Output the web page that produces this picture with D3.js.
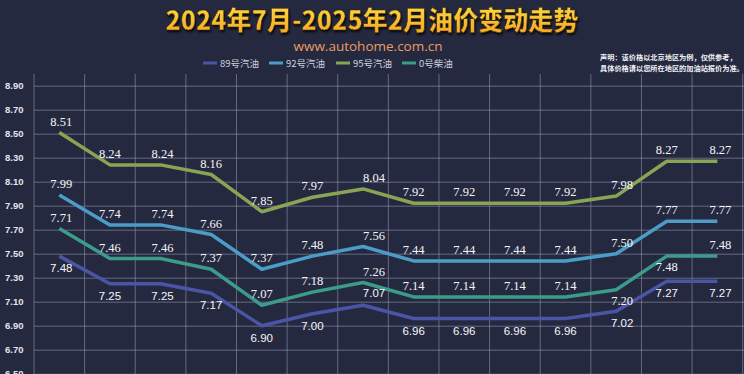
<!DOCTYPE html>
<html>
<head>
<meta charset="utf-8">
<script src="https://cdn.jsdelivr.net/npm/d3@7"></script>
<style>
  html, body { margin: 0; padding: 0; background: #252940; }
  svg { display: block; }
</style>
</head>
<body>
<div id="chart"></div>
<script>
// adjustment rounds, Jul 2024 - Feb 2025 (axis labels sit below the visible area)
const categories = ["7/3", "7/17", "7/31", "8/14", "8/28", "9/11", "9/25", "10/10", "10/24", "11/7", "11/21", "12/5", "1/17", "2/6"];
const seriesNames = ["89号汽油", "92号汽油", "95号汽油", "0号柴油"];
const gas89 = [7.48, 7.25, 7.25, 7.17, 6.90, 7.00, 7.07, 6.96, 6.96, 6.96, 6.96, 7.02, 7.27, 7.27];
const gas92 = [7.99, 7.74, 7.74, 7.66, 7.37, 7.48, 7.56, 7.44, 7.44, 7.44, 7.44, 7.50, 7.77, 7.77];
const gas95 = [8.51, 8.24, 8.24, 8.16, 7.85, 7.97, 8.04, 7.92, 7.92, 7.92, 7.92, 7.98, 8.27, 8.27];
const diesel0 = [7.71, 7.46, 7.46, 7.37, 7.07, 7.18, 7.26, 7.14, 7.14, 7.14, 7.14, 7.20, 7.48, 7.48];
const yTicks = [6.50, 6.70, 6.90, 7.10, 7.30, 7.50, 7.70, 7.90, 8.10, 8.30, 8.50, 8.70, 8.90];
const titleText = "2024年7月-2025年2月油价变动走势";
const subText = "www.autohome.com.cn";
const noteLines = ["声明：该价格以北京地区为例，仅供参考，", "具体价格请以您所在地区的加油站报价为准。"];

const width = 744, height = 374;
const colors = { "89号汽油": "#4a55a6", "92号汽油": "#4c9cc8", "95号汽油": "#88a552", "0号柴油": "#3b9c8a" };
// label side per series (+ = below), with a few exceptions
const labelStyle = {
  "89号汽油": { dy: 12, flip: [6], font: "'Liberation Sans', Arial, sans-serif" },
  "92号汽油": { dy: -11, flip: [], font: "'Liberation Serif', 'Times New Roman', serif" },
  "95号汽油": { dy: -11, flip: [], font: "'Liberation Serif', 'Times New Roman', serif" },
  "0号柴油": { dy: -11, flip: [11, 12], font: "'Liberation Serif', 'Times New Roman', serif" }
};
const labelShift = [2, 0, 2, 0, 0, 0, 11, 0, 0, 0, 0, 6, 0, 3];

const series = [
  { name: "89号汽油", values: gas89 },
  { name: "92号汽油", values: gas92 },
  { name: "95号汽油", values: gas95 },
  { name: "0号柴油", values: diesel0 }
];

const svg = d3.select("#chart").append("svg")
  .attr("width", width)
  .attr("height", height);

const defs = svg.append("defs");
const grad = defs.append("linearGradient")
  .attr("id", "titleGrad").attr("x1", 0).attr("y1", 0).attr("x2", 0).attr("y2", 1);
grad.append("stop").attr("offset", "0%").attr("stop-color", "#ffe24a");
grad.append("stop").attr("offset", "100%").attr("stop-color", "#f4a21e");
const shadow = defs.append("filter").attr("id", "shadow").attr("x", "-10%").attr("y", "-30%").attr("width", "120%").attr("height", "160%");
shadow.append("feDropShadow").attr("dx", 1).attr("dy", 2).attr("stdDeviation", 1.2).attr("flood-color", "#000").attr("flood-opacity", 0.8);

svg.append("rect").attr("width", width).attr("height", height).attr("fill", "#252940");

const x = d3.scaleBand().domain(categories).range([34, 742.7]).padding(0);
const y = d3.scaleLinear().domain([6.5, 9.0]).range([373.7, 73.7]);
const cx = c => x(c) + x.bandwidth() / 2;

// horizontal grid + y labels
const yAxis = svg.append("g")
  .attr("transform", "translate(34,0)")
  .call(d3.axisLeft(y).tickValues(yTicks).tickFormat(d3.format(".2f")).tickSize(-(width - 34)).tickPadding(29));
yAxis.select(".domain").remove();
yAxis.selectAll(".tick line").attr("stroke", "#9094ac").attr("stroke-opacity", 0.6).attr("stroke-width", 1);
yAxis.selectAll(".tick text")
  .attr("text-anchor", "start")
  .attr("fill", "#e2e4ec")
  .style("font-family", "'Liberation Sans', Arial, sans-serif")
  .style("font-weight", "bold")
  .style("font-size", "9.5px");

// vertical grid at band edges
const edges = categories.map(c => x(c)).concat([x.range()[1]]);
svg.append("g").selectAll("line").data(edges).enter().append("line")
  .attr("x1", d => d).attr("x2", d => d)
  .attr("y1", 74).attr("y2", height)
  .attr("stroke", "#9094ac").attr("stroke-opacity", 0.6).attr("stroke-width", 1);

// lines
const line = d3.line()
  .x((d, i) => cx(categories[i]))
  .y(d => y(d));

svg.append("g").selectAll("path").data(series).enter().append("path")
  .attr("d", d => line(d.values))
  .attr("fill", "none")
  .attr("stroke", d => colors[d.name])
  .attr("stroke-width", 3.5)
  .attr("stroke-linejoin", "round");

// value labels
series.forEach(s => {
  const st = labelStyle[s.name];
  svg.append("g").selectAll("text").data(s.values).enter().append("text")
    .attr("x", (d, i) => cx(categories[i]) + labelShift[i])
    .attr("y", (d, i) => y(d) + (st.flip.includes(i) ? -st.dy : st.dy))
    .attr("text-anchor", "middle")
    .attr("dominant-baseline", "central")
    .attr("fill", "#f6f6f8")
    .style("font-family", st.font)
    .style("font-size", s.name === "89号汽油" ? "11.5px" : "12.5px")
    .text(d => d.toFixed(2));
});

// title
svg.append("text")
  .attr("x", 372).attr("y", 30)
  .attr("text-anchor", "middle")
  .attr("textLength", 413).attr("lengthAdjust", "spacingAndGlyphs")
  .attr("fill", "url(#titleGrad)")
  .attr("stroke", "#3a2a10").attr("stroke-width", 0.6)
  .attr("filter", "url(#shadow)")
  .style("font-family", "'Noto Sans CJK SC', sans-serif")
  .style("font-weight", 900)
  .style("font-size", "26px")
  .text(titleText);

svg.append("text")
  .attr("x", 368).attr("y", 51)
  .attr("text-anchor", "middle")
  .attr("fill", "#e89c63")
  .style("font-family", "'Open Sans', sans-serif")
  .style("font-size", "13.5px")
  .text(subText);

// legend
const legendX = [203, 269, 336, 402];
const legend = svg.append("g").selectAll("g").data(seriesNames).enter().append("g")
  .attr("transform", (d, i) => `translate(${legendX[i]},63)`);
legend.append("line")
  .attr("x1", 0).attr("x2", 14).attr("y1", 0).attr("y2", 0)
  .attr("stroke", d => colors[d]).attr("stroke-width", 3);
legend.append("text")
  .attr("x", 17).attr("y", 0)
  .attr("dominant-baseline", "central")
  .attr("fill", "#cdd1dc")
  .style("font-family", "'Noto Sans CJK SC', sans-serif")
  .style("font-size", "9.5px")
  .text(d => d);

// disclaimer
svg.append("g").selectAll("text").data(noteLines).enter().append("text")
  .attr("x", 600).attr("y", (d, i) => 57 + i * 11)
  .attr("dominant-baseline", "central")
  .attr("fill", "#f2f2f6")
  .style("font-family", "'Noto Sans CJK SC', sans-serif")
  .style("font-weight", "bold")
  .style("font-size", "7.2px")
  .text(d => d);
</script>
</body>
</html>
